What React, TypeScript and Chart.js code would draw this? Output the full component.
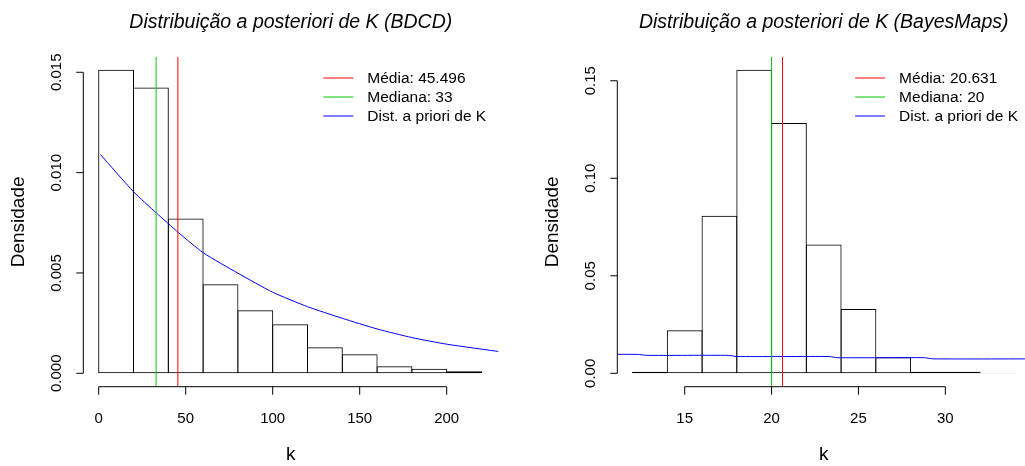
import React, { useEffect, useRef } from 'react';
import { Chart, registerables } from 'chart.js';

Chart.register(...registerables);

// ---------- Left panel: BDCD ----------
const bdcdBinCenters = [10, 30, 50, 70, 90, 110, 130, 150, 170, 190, 210];
const bdcdDensity = [0.01513, 0.01424, 0.00771, 0.00444, 0.00314, 0.00244, 0.0013, 0.00095, 0.00035, 0.00023, 0.0001];
const bdcdPriorK = [1, 20, 33, 46, 60, 80, 100, 120, 140, 160, 180, 200, 232];
const bdcdPriorDensity = [0.0109, 0.00905, 0.0080, 0.0070, 0.00601, 0.00499, 0.00404, 0.00332, 0.00274, 0.00221, 0.00178, 0.00145, 0.00106];
const bdcdMean = 45.496;
const bdcdMedian = 33;
const bdcdXTicks = [0, 50, 100, 150, 200];
const bdcdYTicks = [0, 0.005, 0.01, 0.015];
const bdcdYTickLabels = ['0.000', '0.005', '0.010', '0.015'];

// ---------- Right panel: BayesMaps ----------
const bmBinCenters = [13, 15, 17, 19, 21, 23, 25, 27, 29, 31, 33];
const bmDensity = [0.0008, 0.0221, 0.0808, 0.1557, 0.1284, 0.066, 0.033, 0.0082, 0.0008, 0.0008, 0.0002];
const bmPriorK = [10, 12.3, 12.8, 17.5, 18, 23.3, 23.8, 28.8, 29.3, 36];
const bmPriorDensity = [0.0097, 0.0097, 0.0092, 0.0092, 0.0086, 0.0086, 0.0080, 0.0080, 0.0074, 0.0074];
const bmMean = 20.631;
const bmMedian = 20;
const bmXTicks = [15, 20, 25, 30];
const bmYTicks = [0, 0.05, 0.1, 0.15];
const bmYTickLabels = ['0.00', '0.05', '0.10', '0.15'];

const legendLabelsLeft = ['Média: 45.496', 'Mediana: 33', 'Dist. a priori de K'];
const legendLabelsRight = ['Média: 20.631', 'Mediana: 20', 'Dist. a priori de K'];

const FONT = '"Liberation Sans", Arial, Helvetica, sans-serif';
const RED = '#FF0000';
const GREEN = '#00CD00';
const BLUE = '#0000FF';

type PanelProps = {
  left: number;
  width: number;
  padding: { left: number; right: number; top: number; bottom: number };
  xMin: number; xMax: number; yMin: number; yMax: number;
  centers: number[]; density: number[];
  priorK: number[]; priorD: number[];
  mean: number; median: number;
  xTicks: number[]; yTicks: number[]; yTickLabels: string[];
  title: string; legend: string[];
};

function Panel(p: PanelProps) {
  const ref = useRef<HTMLCanvasElement | null>(null);
  useEffect(() => {
    const canvas = ref.current!;
    const rPlugin = {
      id: 'rstyle',
      afterDraw(chart: any) {
        const ctx = chart.ctx;
        const a = chart.chartArea;
        const xs = chart.scales.x;
        const ys = chart.scales.y;
        ctx.save();
        ctx.strokeStyle = '#000';
        ctx.fillStyle = '#000';
        ctx.lineWidth = 1;
        // y axis
        const yTop = ys.getPixelForValue(p.yTicks[p.yTicks.length - 1]);
        const yBot = ys.getPixelForValue(p.yTicks[0]);
        ctx.beginPath();
        ctx.moveTo(a.left, yTop);
        ctx.lineTo(a.left, yBot);
        p.yTicks.forEach((t) => {
          const y = ys.getPixelForValue(t);
          ctx.moveTo(a.left, y);
          ctx.lineTo(a.left - 7, y);
        });
        ctx.stroke();
        ctx.font = `15px ${FONT}`;
        ctx.textAlign = 'center';
        ctx.textBaseline = 'middle';
        p.yTicks.forEach((t, i) => {
          const y = ys.getPixelForValue(t);
          ctx.save();
          ctx.translate(a.left - 26, y);
          ctx.rotate(-Math.PI / 2);
          ctx.fillText(p.yTickLabels[i], 0, 0);
          ctx.restore();
        });
        // x axis
        const xL = xs.getPixelForValue(p.xTicks[0]);
        const xR = xs.getPixelForValue(p.xTicks[p.xTicks.length - 1]);
        ctx.beginPath();
        ctx.moveTo(xL, a.bottom);
        ctx.lineTo(xR, a.bottom);
        p.xTicks.forEach((t) => {
          const x = xs.getPixelForValue(t);
          ctx.moveTo(x, a.bottom);
          ctx.lineTo(x, a.bottom + 8);
        });
        ctx.stroke();
        p.xTicks.forEach((t) => {
          ctx.fillText(String(t), xs.getPixelForValue(t), 419);
        });
        // axis titles
        const cx = (a.left + a.right) / 2;
        const cy = (a.top + a.bottom) / 2;
        ctx.font = `19px ${FONT}`;
        ctx.fillText('k', cx, 455);
        ctx.save();
        ctx.translate(a.left - 65, cy);
        ctx.rotate(-Math.PI / 2);
        ctx.fillText('Densidade', 0, 0);
        ctx.restore();
        // main title
        ctx.font = `italic 19.5px ${FONT}`;
        ctx.textBaseline = 'alphabetic';
        ctx.fillText(p.title, cx, 28);
        // legend
        const colors = [RED, GREEN, BLUE];
        ctx.font = `15.5px ${FONT}`;
        ctx.textAlign = 'left';
        ctx.textBaseline = 'middle';
        p.legend.forEach((lab, i) => {
          const y = 78 + i * 19;
          ctx.strokeStyle = colors[i];
          ctx.beginPath();
          ctx.moveTo(a.right - 175, y);
          ctx.lineTo(a.right - 145, y);
          ctx.stroke();
          ctx.fillStyle = '#000';
          ctx.fillText(lab, a.right - 131, y + 1);
        });
        ctx.restore();
      },
    };

    const chart = new Chart(canvas, {
      type: 'bar',
      data: {
        datasets: [
          {
            type: 'line',
            data: [{ x: p.mean, y: p.yMin }, { x: p.mean, y: p.yMax }],
            borderColor: RED,
            borderWidth: 1,
            pointRadius: 0,
            order: 1,
          } as any,
          {
            type: 'line',
            data: [{ x: p.median, y: p.yMin }, { x: p.median, y: p.yMax }],
            borderColor: GREEN,
            borderWidth: 1,
            pointRadius: 0,
            order: 2,
          } as any,
          {
            type: 'line',
            data: p.priorK.map((k, i) => ({ x: k, y: p.priorD[i] })),
            borderColor: BLUE,
            borderWidth: 1,
            pointRadius: 0,
            tension: 0.2,
            order: 3,
          } as any,
          {
            type: 'bar',
            data: p.centers.map((c, i) => ({ x: c, y: p.density[i] })),
            backgroundColor: 'rgba(255,255,255,0)',
            borderColor: '#000',
            borderWidth: 1,
            borderSkipped: false,
            barPercentage: 1.03,
            categoryPercentage: 1,
            inflateAmount: 0,
            order: 4,
          } as any,
        ],
      },
      options: {
        animation: false,
        responsive: false,
        events: [],
        layout: { padding: p.padding },
        plugins: { legend: { display: false }, tooltip: { enabled: false }, title: { display: false } },
        scales: {
          x: { type: 'linear', min: p.xMin, max: p.xMax, display: false, offset: false },
          y: { type: 'linear', min: p.yMin, max: p.yMax, display: false },
        },
      },
      plugins: [rPlugin],
    } as any);
    return () => chart.destroy();
  }, []);
  return (
    <canvas
      ref={ref}
      width={p.width}
      height={466}
      style={{ position: 'absolute', left: p.left, top: 0, width: p.width, height: 466 }}
    />
  );
}

export default function App() {
  return (
    <div style={{ position: 'absolute', left: 0, top: 0, width: 1025, height: 466, overflow: 'hidden', background: '#fff' }}>
      <Panel
        left={0}
        width={512}
        padding={{ left: 83.3, right: 512 - 498.3, top: 57, bottom: 466 - 386.7 }}
        xMin={-8.85}
        xMax={229.66}
        yMin={-0.000668}
        yMax={0.015762}
        centers={bdcdBinCenters}
        density={bdcdDensity}
        priorK={bdcdPriorK}
        priorD={bdcdPriorDensity}
        mean={bdcdMean}
        median={bdcdMedian}
        xTicks={bdcdXTicks}
        yTicks={bdcdYTicks}
        yTickLabels={bdcdYTickLabels}
        title="Distribuição a posteriori de K (BDCD)"
        legend={legendLabelsLeft}
      />
      <Panel
        left={512}
        width={530}
        padding={{ left: 105.3, right: 530 - 518.1, top: 57, bottom: 466 - 386.7 }}
        xMin={11.12}
        xMax={34.88}
        yMin={-0.00687}
        yMax={0.16218}
        centers={bmBinCenters}
        density={bmDensity}
        priorK={bmPriorK}
        priorD={bmPriorDensity}
        mean={bmMean}
        median={bmMedian}
        xTicks={bmXTicks}
        yTicks={bmYTicks}
        yTickLabels={bmYTickLabels}
        title="Distribuição a posteriori de K (BayesMaps)"
        legend={legendLabelsRight}
      />
    </div>
  );
}
